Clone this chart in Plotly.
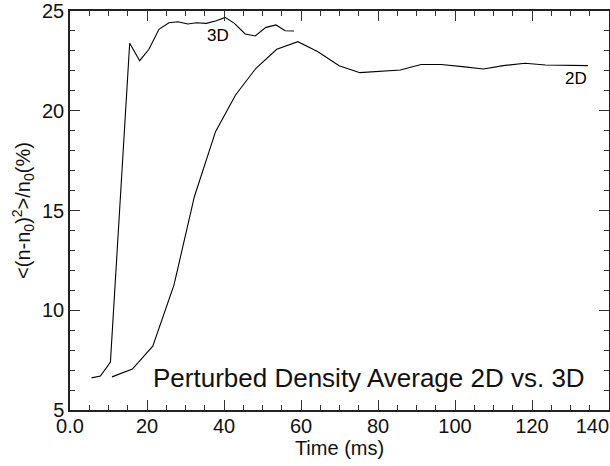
import plotly.graph_objects as go

# 3D run
t_3d = [5.6, 7.9, 10.5, 15.5, 18.1, 20.5, 23.1, 25.7, 28.0, 30.6, 32.8, 35.4,
        38.0, 40.3, 42.7, 45.5, 48.1, 50.9, 53.5, 55.9, 58.2]
n_3d = [6.61, 6.70, 7.40, 23.38, 22.51, 23.08, 24.08, 24.41, 24.46, 24.35, 24.41, 24.38,
        24.51, 24.68, 24.38, 23.85, 23.75, 24.18, 24.30, 24.01, 24.00]

# 2D run
t_2d = [10.9, 16.2, 21.5, 27.0, 32.3, 37.8, 43.0, 48.3, 53.7, 59.2, 64.4, 69.9,
        75.3, 80.8, 85.8, 91.2, 96.4, 101.9, 107.4, 112.5, 118.2, 123.5, 128.5, 134.5]
n_2d = [6.66, 7.05, 8.20, 11.26, 15.69, 18.95, 20.79, 22.13, 23.08, 23.46, 22.96, 22.26,
        21.91, 21.96, 22.04, 22.32, 22.32, 22.21, 22.09, 22.26, 22.38, 22.29, 22.29, 22.26]

x_ticks = [0, 20, 40, 60, 80, 100, 120, 140]
# last label pushed left so it stays inside the page, like the original
x_tick_labels = ["0.0", "20", "40", "60", "80", "100", "120",
                 "140&nbsp;&nbsp;&nbsp;&nbsp;&nbsp;&nbsp;"]
y_ticks = [5, 10, 15, 20, 25]

font = "Liberation Sans, Arial, Helvetica, sans-serif"

fig = go.Figure()
fig.add_trace(go.Scatter(x=t_3d, y=n_3d, mode="lines",
                         line=dict(color="black", width=1.1), showlegend=False))
fig.add_trace(go.Scatter(x=t_2d, y=n_2d, mode="lines",
                         line=dict(color="black", width=1.1), showlegend=False))

fig.add_annotation(x=38.4, y=23.75, text="3D", showarrow=False,
                   font=dict(size=17, color="black", family=font))
fig.add_annotation(x=131.3, y=21.6, text="2D", showarrow=False,
                   font=dict(size=17, color="black", family=font))
fig.add_annotation(xref="paper", yref="paper", x=0.959, y=0.08,
                   xanchor="right", yanchor="middle",
                   text="Perturbed Density Average 2D vs. 3D", showarrow=False,
                   font=dict(size=26, color="#111", family=font))

axis_style = dict(showline=True, linecolor="#222", linewidth=1.5, mirror="ticks",
                  ticks="inside", ticklen=10, tickwidth=1.2, tickcolor="#333",
                  showgrid=False, zeroline=False, ticklabeloverflow="allow",
                  tickfont=dict(size=20, color="#111", family=font))

fig.update_xaxes(range=[0, 140], tickvals=x_ticks, ticktext=x_tick_labels,
                 ticklabelstandoff=-3,
                 minor=dict(ticks="inside", ticklen=5, dtick=5, tickcolor="#333", tickwidth=1),
                 title=dict(text="Time (ms)", font=dict(size=20, color="#111", family=font),
                            standoff=0),
                 **axis_style)
fig.update_yaxes(range=[5, 25], tickvals=y_ticks,
                 minor=dict(ticks="inside", ticklen=5, dtick=1, tickcolor="#333", tickwidth=1),
                 title=dict(text="&lt;(n-n<sub>0</sub>)<sup>2</sup>&gt;/n<sub>0</sub>(%)",
                            font=dict(size=20, color="#111", family=font), standoff=6),
                 **axis_style)

fig.update_layout(width=610, height=466,
                  margin=dict(l=70, r=1, t=11, b=56, autoexpand=False),
                  plot_bgcolor="white", paper_bgcolor="white")

# drop the default 8px body margin so the figure fills the window exactly
fig.write_html("out.html", config={"displayModeBar": False},
               post_script="document.body.style.margin='0';")
